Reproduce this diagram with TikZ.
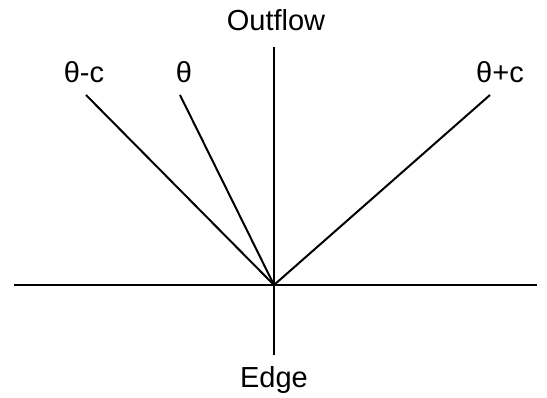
\documentclass[tikz,border=0pt]{standalone}
\usepackage{fontspec}
\setmainfont{Liberation Sans}
\usetikzlibrary{positioning}

\begin{document}
\begin{tikzpicture}[x=1pt, y=1pt,
  every node/.style={font=\fontsize{29}{34}\selectfont, inner sep=0pt},
  lbl/.style={anchor=base},
  ray/.style={line width=2pt, line cap=butt}]

  \useasboundingbox (0,0) rectangle (547,398);

  % meeting point and free ends of the rays
  \coordinate (o) at (274,113);
  \coordinate (wst) at (14,113);
  \coordinate (est) at (537,113);
  \coordinate (top) at (274,351);
  \coordinate (bot) at (274,43);
  \coordinate (tm) at (86,303);
  \coordinate (t0) at (180,303);
  \coordinate (tp) at (490,303);

  \node[lbl] (outflow) at (276,367) {Outflow};
  \node[lbl] (edge) at (274,10) {Edge};
  \node[lbl] (thm) at (84,315) {θ-c};
  \node[lbl] (th) at (184,315) {θ};
  \node[lbl] (thp) at (500,315) {θ+c};

  \draw[ray] (wst) -- (est);
  \draw[ray] (bot) -- (top);
  \draw[ray] (o) -- (tm);
  \draw[ray] (o) -- (t0);
  \draw[ray] (o) -- (tp);
\end{tikzpicture}
\end{document}
